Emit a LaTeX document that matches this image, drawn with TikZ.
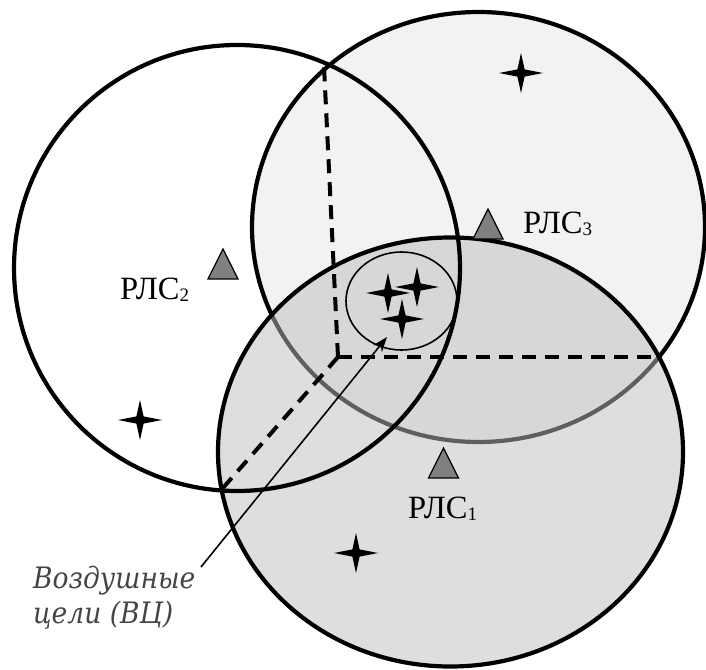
\documentclass[tikz,border=0pt]{standalone}
\usepackage{fontspec}
\setmainfont{Liberation Serif}
\newfontfamily\notefont[FakeStretch=0.9]{DejaVu Serif}
\usetikzlibrary{arrows.meta}

\definecolor{zonelight}{gray}{0.949}
\definecolor{zonedark}{gray}{0.745}
\definecolor{radarfill}{gray}{0.5}
\definecolor{notegray}{gray}{0.27}

% index of a radar station, set as a lowered small digit
\newcommand\rlsidx[1]{\raisebox{-2.5pt}{\fontsize{19}{19}\selectfont #1}}

\begin{document}
\begin{tikzpicture}[x=1pt,y=-1pt,
  zonerim/.style={line width=4.2pt},
  zonebound/.style={line width=4pt, dash pattern=on 14pt off 9pt},
  rlslabel/.style={font=\fontsize{32.5}{32.5}\selectfont, inner sep=0pt, anchor=base west},
  vclabel/.style={font=\notefont\itshape\fontsize{29.5}{29.5}\selectfont, text=notegray,
               inner sep=0pt, anchor=base west},
  vcstar/.pic={\fill[black] (22,0) -- (3.6,3.6) -- (0,20) -- (-3.6,3.6) -- (-22,0)
                 -- (-3.6,-3.6) -- (0,-20) -- (3.6,-3.6) -- cycle;},
  radarmark/.pic={\filldraw[fill=radarfill, draw=black, line width=1.3pt]
                 (0,-15) -- (15,15) -- (-15,15) -- cycle;},
]
\fill[white] (0,0) rectangle (706,669);
\useasboundingbox (0,0) rectangle (706,669);

% coverage zone of station 3
\fill[zonelight] (478.5,227) ellipse [x radius=226.5pt, y radius=215pt];
\draw[zonerim] (478.5,227) ellipse [x radius=226.5pt, y radius=215pt];

% coverage zone of station 1 (translucent, so zone 3's rim shows through grey)
\fill[zonedark, fill opacity=0.5] (450.5,452) ellipse [x radius=232.5pt, y radius=214.5pt];
\draw[zonerim] (450.5,452) ellipse [x radius=232.5pt, y radius=214.5pt];

% coverage zone of station 2 (outline only)
\draw[zonerim] (237,268) circle [radius=223pt];

% boundaries of the common zone
\coordinate (hub) at (338,357);
\coordinate (x23) at (324,66);
\coordinate (x13) at (659,357);
\coordinate (x12) at (222,489);
\draw[zonebound] (hub) -- (x23);
\draw[zonebound] (hub) -- (x13);
\draw[zonebound] (hub) -- (x12);

% group of targets
\draw[line width=1.6pt] (401.5,301) ellipse [x radius=55.5pt, y radius=49pt];
\pic at (388,293) {vcstar};
\pic at (417,287) {vcstar};
\pic at (402,319) {vcstar};

% single targets
\pic at (521,73) {vcstar};
\pic at (140,420) {vcstar};
\pic at (356,553) {vcstar};

% radar stations
\pic at (223,264) {radarmark};
\pic at (488,224) {radarmark};
\pic at (443.5,463) {radarmark};

\node[rlslabel] (rls2) at (120,299) {РЛС\rlsidx{2}};
\node[rlslabel] (rls3) at (523,233) {РЛС\rlsidx{3}};
\node[rlslabel] (rls1) at (408,518) {РЛС\rlsidx{1}};

% caption for the targets
\node[vclabel] (vc1) at (33,588) {Воздушные};
\node[vclabel] (vc2) at (33,623) {цели (ВЦ)};
\coordinate (vctail) at (201,567);
\coordinate (vctip) at (387,337);
\draw[line width=1.6pt, -{Stealth[length=15pt, width=11pt]}] (vctail) -- (vctip);
\end{tikzpicture}
\end{document}
